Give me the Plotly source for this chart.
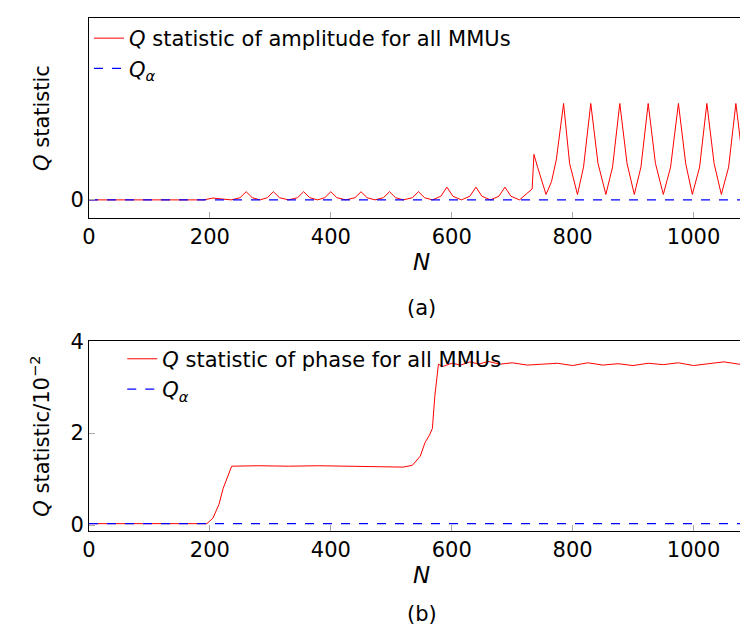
import plotly.graph_objects as go
from plotly.subplots import make_subplots

# (a) Q statistic of amplitude — vertices
amp_n = [0, 190, 205, 220, 235, 250, 260, 270, 283, 295, 305, 315, 330, 345, 355, 365, 378,
         390, 400, 410, 425, 440, 450, 460, 473, 487, 497, 507, 520, 535, 545, 555, 568,
         582, 592, 602, 616, 630, 640, 650, 664, 678, 688, 698, 712, 733, 736, 742, 756,
         765, 773, 785, 795, 808, 818, 830, 842, 855, 866, 878, 890, 902, 913, 925, 937,
         950, 962, 975, 987, 998, 1010, 1022, 1034, 1046, 1058, 1070, 1082, 1094, 1100]
amp_q = [0.0, 0.0, 0.01, 0.005, 0.0, 0.012, 0.045, 0.012, 0.0, 0.012, 0.045, 0.012, 0.0, 0.012, 0.045, 0.012, 0.0,
         0.012, 0.045, 0.012, 0.0, 0.012, 0.045, 0.012, 0.0, 0.012, 0.045, 0.012, 0.0, 0.012, 0.045, 0.012, 0.0,
         0.02, 0.07, 0.02, 0.0, 0.02, 0.07, 0.02, 0.0, 0.02, 0.07, 0.02, 0.0, 0.06, 0.25, 0.18, 0.03,
         0.1, 0.22, 0.53, 0.2, 0.03, 0.18, 0.53, 0.2, 0.03, 0.18, 0.53, 0.2, 0.03, 0.18, 0.53, 0.2,
         0.03, 0.18, 0.53, 0.2, 0.03, 0.18, 0.53, 0.2, 0.03, 0.18, 0.53, 0.2, 0.03, 0.07]
amp_limit = 0.0

# (b) Q statistic of phase (x 10^-2)
ph_n = [0, 195, 205, 215, 222, 230, 236, 280, 330, 380, 430, 480, 520, 535, 548, 556,
        563, 568, 572, 578, 585, 600, 615, 630, 645, 660, 680, 700, 725, 750, 775, 800,
        825, 850, 875, 900, 925, 950, 975, 1000, 1025, 1050, 1075, 1100]
ph_q = [0.03, 0.03, 0.15, 0.45, 0.8, 1.1, 1.28, 1.29, 1.28, 1.29, 1.28, 1.28, 1.26, 1.3, 1.5, 1.8,
        1.95, 2.1, 2.8, 3.5, 3.45, 3.52, 3.48, 3.55, 3.5, 3.56, 3.5, 3.53, 3.48, 3.5, 3.52, 3.47,
        3.53, 3.48, 3.51, 3.47, 3.52, 3.49, 3.53, 3.47, 3.51, 3.55, 3.5, 3.53]
ph_limit = 0.03

fig = make_subplots(rows=2, cols=1, vertical_spacing=0.24)

fig.add_trace(go.Scatter(x=amp_n, y=amp_q, mode='lines', line=dict(color='red', width=1),
                         name='<i>Q</i> statistic of amplitude for all MMUs', legend='legend'),
              row=1, col=1)
fig.add_trace(go.Scatter(x=[0, 1100], y=[amp_limit, amp_limit], mode='lines',
                         line=dict(color='blue', width=1.2, dash='dash'),
                         name='<i>Q</i><sub><i>α</i></sub>', legend='legend'), row=1, col=1)
fig.add_trace(go.Scatter(x=ph_n, y=ph_q, mode='lines', line=dict(color='red', width=1),
                         name='<i>Q</i> statistic of phase for all MMUs', legend='legend2'),
              row=2, col=1)
fig.add_trace(go.Scatter(x=[0, 1100], y=[ph_limit, ph_limit], mode='lines',
                         line=dict(color='blue', width=1.2, dash='dash'),
                         name='<i>Q</i><sub><i>α</i></sub>', legend='legend2'), row=2, col=1)

axis_style = dict(showline=True, linecolor='black', linewidth=1, mirror=True, automargin=False,
                  showgrid=False, zeroline=False, ticks='inside', tickcolor='#aaaaaa',
                  ticklen=6, tickfont=dict(size=21, color='black'))

fig.update_xaxes(range=[0, 1100], tickvals=[0, 200, 400, 600, 800, 1000],
                 title=dict(text='<i>N</i>', font=dict(size=23), standoff=5), **axis_style)
fig.update_yaxes(**axis_style)
fig.update_yaxes(range=[-0.1, 1], tickvals=[0, 1], title=dict(text='<i>Q</i> statistic', font=dict(size=21)),
                 domain=[0.61, 1.0], row=1, col=1)
fig.update_yaxes(range=[-0.13, 4], tickvals=[0, 2, 4],
                 title=dict(text='<i>Q</i> statistic/10<sup>−2</sup>', font=dict(size=21)),
                 domain=[0.0, 0.37], row=2, col=1)

legend_style = dict(bgcolor='rgba(0,0,0,0)', font=dict(size=21, color='black'),
                    xanchor='left', yanchor='top', tracegroupgap=0)
fig.update_layout(
    legend=dict(x=0.0, y=1.0, **legend_style),
    legend2=dict(x=0.05, y=0.375, **legend_style),
    font=dict(family='DejaVu Sans', color='black'),
    plot_bgcolor='white', paper_bgcolor='white',
    width=748, height=636,
    margin=dict(l=81, r=2, t=10, b=113),
    annotations=[
        dict(text='(a)', x=0.5, y=0.61, xref='paper', yref='paper', yshift=-90,
             showarrow=False, font=dict(size=21)),
        dict(text='(b)', x=0.5, y=0.0, xref='paper', yref='paper', yshift=-97,
             showarrow=False, font=dict(size=21)),
    ],
)

fig.write_html("out.html")
